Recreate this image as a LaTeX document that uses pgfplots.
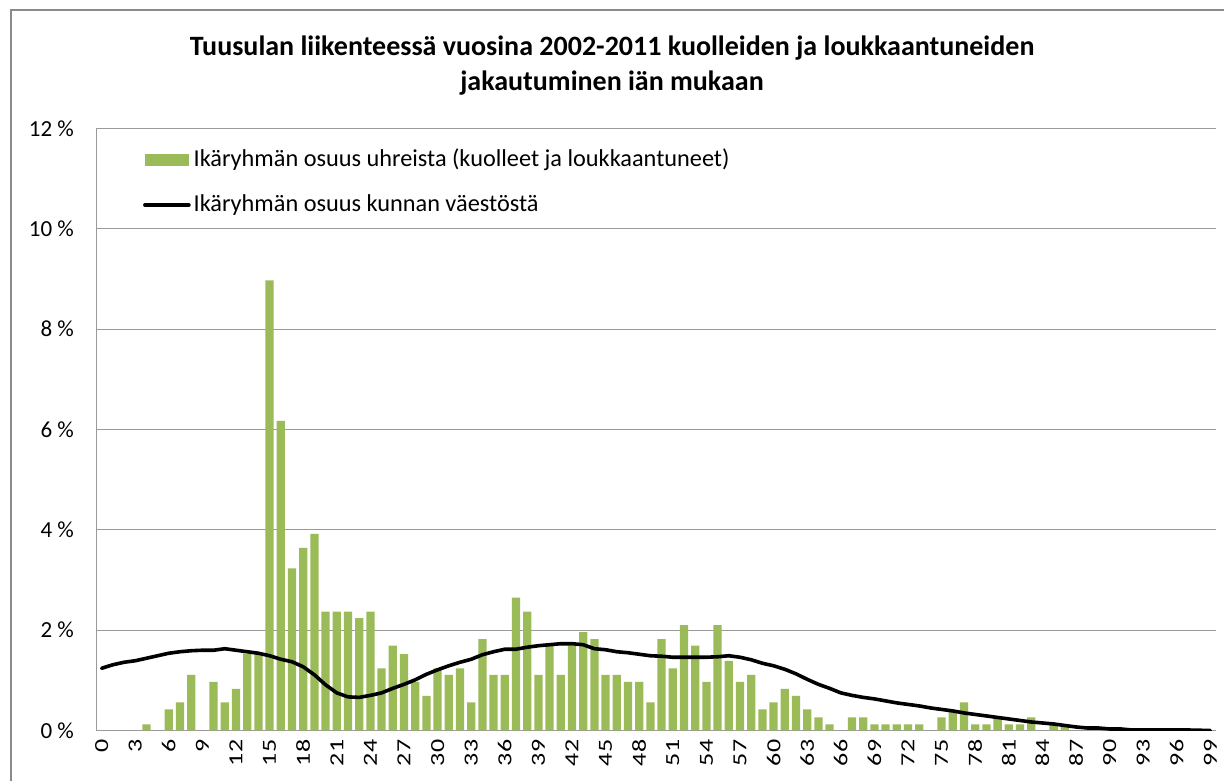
\documentclass[border=0pt]{standalone}
\usepackage{pgfplots}
\pgfplotsset{compat=1.18}
\usepackage{pgfplotstable}
\usepackage{fontspec}
\setmainfont{Carlito}
\newfontfamily\xlabfont[FakeStretch=1.3]{Carlito}
\definecolor{barcolor}{HTML}{9BBB59}
\definecolor{gridc}{HTML}{9A9A9A}
\definecolor{framec}{HTML}{8A8A8A}

\pgfplotstableread{
age val
4 0.12
6 0.42
7 0.56
8 1.11
10 0.97
11 0.56
12 0.83
13 1.53
14 1.53
15 8.97
16 6.17
17 3.23
18 3.64
19 3.92
20 2.37
21 2.37
22 2.37
23 2.24
24 2.37
25 1.24
26 1.69
27 1.52
28 0.97
29 0.69
30 1.24
31 1.11
32 1.24
33 0.56
34 1.82
35 1.11
36 1.11
37 2.65
38 2.37
39 1.11
40 1.69
41 1.11
42 1.69
43 1.96
44 1.82
45 1.11
46 1.11
47 0.97
48 0.97
49 0.56
50 1.82
51 1.24
52 2.10
53 1.69
54 0.97
55 2.10
56 1.39
57 0.97
58 1.11
59 0.42
60 0.56
61 0.83
62 0.69
63 0.42
64 0.26
65 0.12
67 0.26
68 0.26
69 0.12
70 0.12
71 0.12
72 0.12
73 0.12
75 0.26
76 0.39
77 0.56
78 0.12
79 0.12
80 0.26
81 0.12
82 0.12
83 0.26
85 0.12
86 0.12
}\bartable

\pgfplotstableread{
age val
0 1.24
1 1.31
2 1.36
3 1.39
4 1.44
5 1.49
6 1.54
7 1.57
8 1.59
9 1.60
10 1.60
11 1.63
12 1.60
13 1.57
14 1.54
15 1.49
16 1.42
17 1.37
18 1.27
19 1.11
20 0.91
21 0.75
22 0.67
23 0.66
24 0.70
25 0.75
26 0.84
27 0.92
28 1.01
29 1.12
30 1.21
31 1.29
32 1.36
33 1.42
34 1.51
35 1.57
36 1.62
37 1.62
38 1.66
39 1.69
40 1.71
41 1.73
42 1.73
43 1.71
44 1.63
45 1.61
46 1.57
47 1.55
48 1.52
49 1.49
50 1.48
51 1.46
52 1.46
53 1.46
54 1.46
55 1.47
56 1.49
57 1.46
58 1.41
59 1.34
60 1.29
61 1.22
62 1.13
63 1.02
64 0.92
65 0.84
66 0.75
67 0.70
68 0.66
69 0.63
70 0.59
71 0.55
72 0.52
73 0.49
74 0.45
75 0.42
76 0.39
77 0.35
78 0.32
79 0.29
80 0.26
81 0.23
82 0.20
83 0.17
84 0.15
85 0.13
86 0.10
87 0.07
88 0.05
89 0.05
90 0.03
91 0.03
92 0.01
93 0.01
94 0.01
95 0.01
96 0.01
97 0.01
98 0.005
99 0.0
}\linetable

\begin{document}
\begin{tikzpicture}[x=1pt,y=1pt]
\useasboundingbox (0,0) rectangle (1224,781);
\begin{scope}
\clip (0,0) rectangle (1224,781);
\draw[framec, line width=2pt] (11,-20) -- (11,770.5) -- (1250,770.5);
\end{scope}
\node[anchor=base, font=\fontsize{28}{32}\selectfont\bfseries] at (612,725) {Tuusulan liikenteessä vuosina 2002-2011 kuolleiden ja loukkaantuneiden};
\node[anchor=base, font=\fontsize{28}{32}\selectfont\bfseries] at (612,690) {jakautuminen iän mukaan};
\begin{axis}[
  at={(96pt,50.5pt)}, anchor=south west,
  width=1120pt, height=602pt, scale only axis,
  xmin=-0.5, xmax=99.5, ymin=0, ymax=12,
  axis x line=bottom, axis y line=left,
  axis line style={draw=gridc, line width=1pt, -},
  ymajorgrids, grid style={gridc, line width=1pt},
  major tick length=0pt,
  ytick={0,2,4,6,8,10,12},
  yticklabels={0 \%,2 \%,4 \%,6 \%,8 \%,10 \%,12 \%},
  xtick={0,3,...,99},
  xticklabels={0,3,6,9,12,15,18,21,24,27,30,33,36,39,42,45,48,51,54,57,60,63,66,69,72,75,78,81,84,87,90,93,96,99},
  tick label style={inner sep=0pt},
  xticklabel style={rotate=90, anchor=east, font=\xlabfont\fontsize{20}{24}\selectfont},
  yticklabel style={anchor=east, font=\fontsize{23}{27}\selectfont},
  xticklabel shift=9pt,
  yticklabel shift=22pt,
  legend style={at={(axis description cs:0.0392,0.9693)}, anchor=north west,
    draw=none, fill=none, font=\fontsize{24.3}{28}\selectfont,
    row sep=23pt, column sep=3pt,
    nodes={inner sep=0pt, text height=17pt, text depth=5pt}},
  legend cell align=left,
]
\addplot[ybar, bar width=0.74, fill=barcolor, draw=none,
  legend image code/.code={\fill[barcolor] (0pt,-6pt) rectangle (44pt,6pt);}]
  table[x=age,y=val] {\bartable};
\addlegendentry{Ikäryhmän osuus uhreista (kuolleet ja loukkaantuneet)}
\addplot[black, line width=3.6pt, line join=round, line cap=round,
  legend image code/.code={\draw[line width=3.6pt, line cap=round] (0pt,0pt) -- (44pt,0pt);}]
  table[x=age,y=val] {\linetable};
\addlegendentry{Ikäryhmän osuus kunnan väestöstä}
\end{axis}
\end{tikzpicture}
\end{document}
